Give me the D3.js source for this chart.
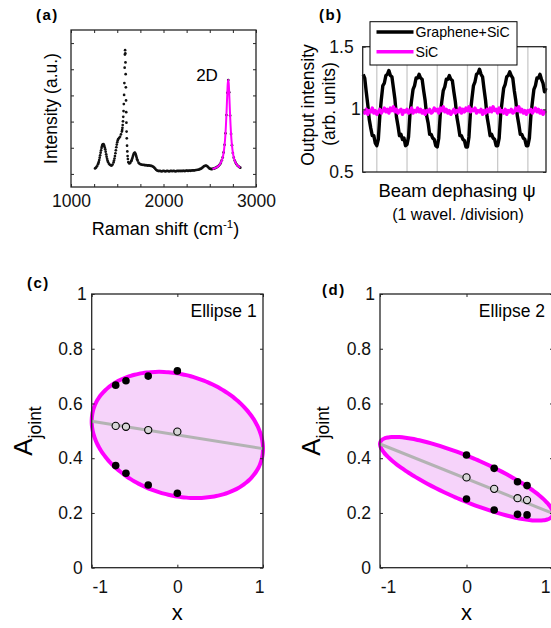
<!DOCTYPE html>
<html>
<head>
<meta charset="utf-8">
<script src="https://cdn.jsdelivr.net/npm/d3@7"></script>
<style>
  body { margin: 0; background: #fff; }
  svg { display: block; font-family: "Liberation Sans", Arial, Helvetica, sans-serif; }
</style>
</head>
<body>
<svg id="fig" width="551" height="628"></svg>
<script>
// ---------- (a) Raman spectrum ----------
const ramanShift = [
  1260,1270,1280,1290,1295,1300,1305,1310,1315,1320,1325,1330,1335,1340,1345,1350,1355,1360,1365,1370,
  1375,1380,1385,1390,1395,1400,1410,1420,1430,1440,1450,1460,1465,1470,1475,1480,1485,1490,1495,1500,
  1505,1510,1520,1530,1540,1550,1553,1556,1559,1562,1565,1568,1571,1574,1577,1580,1583,1585,1587,1589,
  1591,1593,1595,1597,1599,1601,1603,1606,1609,1612,1615,1620,1630,1640,1650,1655,1660,1665,1670,1675,
  1680,1685,1690,1695,1700,1705,1710,1715,1720,1730,1740,1750,1760,1770,1780,1790,1800,1810,1820,1830,
  1840,1850,1860,1870,1880,1890,1900,1910,1920,1930,1940,1950,1960,1970,1980,1990,2000,2010,2020,2030,
  2040,2050,2060,2070,2080,2090,2100,2110,2120,2130,2140,2150,2160,2170,2180,2190,2200,2210,2220,2230,
  2240,2250,2260,2270,2280,2290,2300,2310,2320,2330,2340,2350,2360,2370,2380,2390,2400,2410,2420,2430,
  2440,2450,2460,2470,2480,2490,2500,2510,2520,2530,2540,2550,2560,2570,2580,2590,2600,2610,2620,2630,
  2640,2650,2660,2670,2680,2690,2700,2710,2720,2730,2740,2750,2760,2770,2780,2790,2800,2810,2820,2830
];
const ramanIntensity = [
  0.71,0.74,0.79,0.86,0.90,0.96,1.03,1.12,1.21,1.31,1.40,1.49,1.56,1.61,1.63,1.64,1.61,1.57,1.51,1.44,
  1.35,1.25,1.16,1.08,1.01,0.96,0.89,0.85,0.83,0.82,0.86,0.94,1.01,1.09,1.18,1.29,1.40,1.52,1.62,1.71,
  1.78,1.83,1.87,1.92,2.01,2.12,2.18,2.26,2.37,2.51,2.68,2.90,3.17,3.52,3.97,4.56,5.06,5.23,5.11,4.76,
  4.31,3.81,3.31,2.86,2.46,2.12,1.86,1.58,1.36,1.18,1.07,0.95,0.90,0.92,0.98,1.02,1.07,1.12,1.18,1.23,
  1.28,1.30,1.31,1.28,1.24,1.18,1.12,1.06,1.01,0.93,0.89,0.87,0.86,0.85,0.84,0.85,0.83,0.84,0.83,0.82,
  0.83,0.82,0.81,0.81,0.79,0.77,0.74,0.70,0.66,0.63,0.62,0.61,0.62,0.61,0.60,0.61,0.62,0.61,0.60,0.61,
  0.62,0.61,0.60,0.61,0.62,0.61,0.61,0.62,0.61,0.60,0.61,0.62,0.61,0.62,0.61,0.62,0.61,0.62,0.62,0.61,
  0.62,0.63,0.62,0.62,0.63,0.62,0.63,0.63,0.64,0.63,0.64,0.65,0.65,0.66,0.66,0.68,0.69,0.71,0.74,0.77,
  0.80,0.81,0.82,0.80,0.77,0.73,0.70,0.69,0.68,0.69,0.70,0.71,0.73,0.74,0.77,0.79,0.83,0.87,0.93,1.02,
  1.13,1.32,1.61,2.05,2.75,3.60,4.09,3.62,2.73,2.03,1.60,1.30,1.12,1.01,0.93,0.87,0.82,0.79,0.76,0.74
];
// Lorentzian fit of the 2D band
const fitShift = [2530,2540,2550,2560,2570,2580,2590,2600,2610,2620,2630,2640,2650,2660,2665,2670,2675,2680,2685,2690,
  2695,2700,2705,2710,2715,2720,2725,2730,2735,2740,2750,2760,2770,2780,2790,2800,2810,2820,2830];
const fitIntensity = [0.69,0.70,0.71,0.73,0.74,0.76,0.79,0.82,0.87,0.93,1.01,1.13,1.31,1.60,1.79,2.04,2.36,2.74,3.17,3.61,
  3.96,4.09,3.96,3.61,3.17,2.74,2.36,2.04,1.79,1.60,1.31,1.13,1.01,0.93,0.87,0.82,0.79,0.76,0.74];
const ramanTicks = [1000,1250,1500,1750,2000,2250,2500,2750,3000];
const ramanTickLabels = [1000,2000,3000];
const intensityTicks = [0.5,1.5,2.5,3.5,4.5,5.5];

// ---------- (b) interferometer output ----------
const dephaseStart = 0.55, dephaseStep = 0.05;   // wavelengths
const grapheneSiC = [
  1.28,1.25,1.14,1.04,0.92,0.85,0.79,0.79,0.73,
  0.71,0.76,0.95,1.08,1.19,1.21,1.27,1.28,1.31,1.27,1.26,1.17,1.08,0.94,0.87,0.79,0.80,0.76,0.77,0.71,
  0.72,0.78,0.97,1.07,1.16,1.19,1.25,1.25,1.28,1.25,1.24,1.15,1.07,0.95,0.89,0.80,0.80,0.77,0.76,0.71,
  0.70,0.77,0.96,1.06,1.15,1.18,1.24,1.24,1.27,1.24,1.23,1.14,1.06,0.94,0.87,0.79,0.79,0.76,0.75,0.70,
  0.70,0.78,0.98,1.09,1.19,1.22,1.28,1.29,1.32,1.28,1.26,1.16,1.07,0.94,0.87,0.79,0.80,0.77,0.76,0.71,
  0.71,0.77,0.96,1.07,1.17,1.20,1.26,1.27,1.30,1.27,1.25,1.15,1.07,0.95,0.88,0.80,0.80,0.77,0.76,0.71,
  0.71,0.77,0.95,1.06,1.16,1.19,1.25,1.25,1.28,1.24,1.21,1.14,1.17
];
const siC = [
  0.99,0.97,1.00,0.96,0.99,0.98,1.01,0.97,0.99,0.96,
  0.98,1.00,0.97,0.99,1.01,0.98,1.00,0.97,1.01,0.99,
  1.02,0.98,1.00,0.97,0.99,1.00,0.96,0.99,0.98,1.00,
  0.97,0.98,1.01,0.97,0.99,0.98,1.01,0.98,1.00,0.97,
  0.99,0.96,0.99,0.98,1.00,0.97,0.98,1.01,0.99,1.00,
  0.97,1.01,0.99,1.02,0.98,1.00,0.97,0.99,0.96,0.98,
  1.00,0.97,0.99,0.98,1.01,0.97,1.00,0.98,1.01,0.99,
  1.02,0.98,1.00,0.99,1.01,0.97,0.99,0.98,1.00,0.96,
  0.99,0.97,1.00,0.98,1.01,0.98,1.02,0.99,1.00,0.97,
  1.01,0.98,0.99,0.97,1.00,0.96,0.99,0.98,1.00,0.97,
  0.98,1.01,0.99,1.02,0.98,1.00,0.97,0.99,0.96,0.99,
  0.98,1.00,0.97,0.99,1.01,0.98,1.00,0.97,0.99,0.96,
  0.98,0.99
];
const divisionTicks = [1,2,3,4,5,6];
const outputTicks = [0.5,1,1.5];
const seriesNames = ["Graphene+SiC","SiC"];

// ---------- (c), (d) joint amplitude ellipses ----------
const e1Params = [0.485, -0.05, 0.225];      // centre, tilt, half-height
const e1X     = [-0.72, -0.60, -0.34, 0.00];
const e1Upper = [0.667, 0.683, 0.700, 0.719];
const e1Lower = [0.373, 0.345, 0.302, 0.272];
const e1Mid   = [0.518, 0.515, 0.503, 0.497];

const e2Params = [0.325, -0.127, 0.085];
const e2X     = [0.00, 0.32, 0.59, 0.70];
const e2Upper = [0.412, 0.363, 0.314, 0.300];
const e2Lower = [0.251, 0.211, 0.195, 0.193];
const e2Mid   = [0.330, 0.288, 0.254, 0.247];

const aTicks = [0,0.2,0.4,0.6,0.8,1];
const xTicks = [-1,0,1];

// ---------- styling ----------
const INK = "#262626", MAG = "#ff00ff", GRID = "#cacaca";
const FILL = "#f6d3fa", MEAN = "#b3b3b3", OPEN = "#d6d6d6";
const TICK_FS = 17.5;

const svg = d3.select("#fig");

function frame(g, x, y) {
  const [x0, x1] = x.range(), [y0, y1] = y.range();
  g.append("rect")
    .attr("x", x0).attr("y", y1).attr("width", x1 - x0).attr("height", y0 - y1)
    .attr("fill", "none").attr("stroke", INK).attr("stroke-width", 1.3);
}

function axis(g, gen, tx, ty, nudge) {
  const a = g.append("g").attr("transform", `translate(${tx},${ty})`).call(gen);
  a.attr("font-size", null).attr("font-family", null);
  a.select(".domain").remove();
  a.selectAll(".tick line").attr("stroke", INK).attr("stroke-width", 1);
  a.selectAll(".tick text").attr("fill", "#111").style("font-size", TICK_FS + "px");
  if (nudge) a.selectAll(".tick text").attr("dx", d => nudge(d) || 0);
  return a;
}

function panelLabel(txt, x, y) {
  svg.append("text").attr("x", x).attr("y", y).text(txt)
    .style("font-weight", "bold").style("font-size", "15px").style("letter-spacing", "1.5px");
}

// ================= (a) =================
{
  const g = svg.append("g");
  const x = d3.scaleLinear().domain([1000, 3000]).range([71, 256]);
  const y = d3.scaleLinear().domain([0, 6]).range([187, 30]);

  g.append("g").selectAll("circle")
    .data(d3.zip(ramanShift, ramanIntensity))
    .join("circle")
    .attr("cx", d => x(d[0])).attr("cy", d => y(d[1])).attr("r", 1.35).attr("fill", "#111");

  g.append("path")
    .attr("d", d3.line().x(d => x(d[0])).y(d => y(d[1])).curve(d3.curveCatmullRom)(d3.zip(fitShift, fitIntensity)))
    .attr("fill", "none").attr("stroke", MAG).attr("stroke-width", 2);

  frame(g, x, y);
  axis(g, d3.axisBottom(x).tickValues(ramanTicks).tickSize(-3).tickPadding(8)
    .tickFormat(d => ramanTickLabels.includes(d) ? d : ""), 0, 187);
  axis(g, d3.axisTop(x).tickValues(ramanTicks).tickSize(-3).tickFormat(""), 0, 30);
  axis(g, d3.axisLeft(y).tickValues(intensityTicks).tickSize(-3).tickFormat(""), 71, 0);
  axis(g, d3.axisRight(y).tickValues(intensityTicks).tickSize(-3).tickFormat(""), 256, 0);

  g.append("text").attr("x", 207).attr("y", 81).attr("text-anchor", "middle")
    .style("font-size", "17px").text("2D");

  g.append("text").attr("transform", "translate(57,108.5) rotate(-90)")
    .attr("text-anchor", "middle").style("font-size", "17.5px").text("Intensity (a.u.)");

  const xl = g.append("text").attr("x", 165.5).attr("y", 235).attr("text-anchor", "middle")
    .style("font-size", "18px");
  xl.append("tspan").text("Raman shift (cm");
  xl.append("tspan").attr("dy", -7).style("font-size", "11.5px").text("-1");
  xl.append("tspan").attr("dy", 7).text(")");

  panelLabel("(a)", 36, 20);
}

// ================= (b) =================
{
  const g = svg.append("g");
  const x = d3.scaleLinear().domain([0.533, 6.6]).range([362.7, 546]);
  const y = d3.scaleLinear().domain([0.5, 1.5]).range([172, 46.7]);
  const phase = i => dephaseStart + i * dephaseStep;

  g.append("g").selectAll("line").data(divisionTicks).join("line")
    .attr("x1", d => x(d)).attr("x2", d => x(d)).attr("y1", y(0.5)).attr("y2", y(1.5))
    .attr("stroke", GRID).attr("stroke-width", 1.3);

  const line = d3.line().x((d, i) => x(phase(i))).y(d => y(d));
  g.append("path").attr("d", line(grapheneSiC))
    .attr("fill", "none").attr("stroke", "#000").attr("stroke-width", 3.4).attr("stroke-linejoin", "round");
  g.append("path").attr("d", line(siC))
    .attr("fill", "none").attr("stroke", MAG).attr("stroke-width", 3.4).attr("stroke-linejoin", "round");

  frame(g, x, y);
  axis(g, d3.axisLeft(y).tickValues(outputTicks).tickSize(-3).tickPadding(9)
    .tickFormat(d => d === 1 ? "1" : d.toFixed(1)), 362.7, 0, d => d === 1 ? 7 : 0);
  axis(g, d3.axisRight(y).tickValues(outputTicks).tickSize(-3).tickFormat(""), 546, 0);

  // legend
  const lg = g.append("g");
  lg.append("rect").attr("x", 370).attr("y", 21.7).attr("width", 147).attr("height", 43.3)
    .attr("fill", "#fff").attr("stroke", "#000").attr("stroke-width", 1);
  [["#000", 32], [MAG, 51.7]].forEach(([c, ly], i) => {
    lg.append("line").attr("x1", 376.5).attr("x2", 413.5).attr("y1", ly).attr("y2", ly)
      .attr("stroke", c).attr("stroke-width", 3.4);
    lg.append("text").attr("x", 415.5).attr("y", ly + 5).style("font-size", "14.2px").text(seriesNames[i]);
  });

  g.append("text").attr("transform", "translate(313.5,105) rotate(-90)")
    .attr("text-anchor", "middle").style("font-size", "17.5px").text("Output intensity");
  g.append("text").attr("transform", "translate(334.5,104) rotate(-90)")
    .attr("text-anchor", "middle").style("font-size", "17.5px").text("(arb. units)");

  g.append("text").attr("x", 457).attr("y", 197).attr("text-anchor", "middle")
    .style("font-size", "18.5px").text("Beam dephasing \u03C8");
  g.append("text").attr("x", 458).attr("y", 220).attr("text-anchor", "middle")
    .style("font-size", "16px").text("(1 wavel. /division)");

  panelLabel("(b)", 319, 20);
}

// ================= (c), (d) =================
function ellipsePanel(left, right, params, xs, upper, lower, mid, title, titleX, yLabelX, lastShift) {
  const g = svg.append("g");
  const x = d3.scaleLinear().domain([-1, 1]).range([left, right]);
  const y = d3.scaleLinear().domain([0, 1]).range([567.7, 294]);
  const [c, tilt, half] = params;

  const ring = d3.range(0, 360, 3).map(t => {
    const r = t * Math.PI / 180;
    return [Math.cos(r), c + tilt * Math.cos(r) + half * Math.sin(r)];
  });
  g.append("path")
    .attr("d", d3.line().x(d => x(d[0])).y(d => y(d[1])).curve(d3.curveCatmullRomClosed)(ring))
    .attr("fill", FILL).attr("stroke", MAG).attr("stroke-width", 4);

  g.append("line")
    .attr("x1", x(-1)).attr("y1", y(c - tilt)).attr("x2", x(1)).attr("y2", y(c + tilt))
    .attr("stroke", MEAN).attr("stroke-width", 3);

  const filled = xs.map((v, i) => [v, upper[i]]).concat(xs.map((v, i) => [v, lower[i]]));
  g.append("g").selectAll("circle").data(filled).join("circle")
    .attr("cx", d => x(d[0])).attr("cy", d => y(d[1])).attr("r", 3.8).attr("fill", "#000");
  g.append("g").selectAll("circle").data(xs.map((v, i) => [v, mid[i]])).join("circle")
    .attr("cx", d => x(d[0])).attr("cy", d => y(d[1])).attr("r", 3.6)
    .attr("fill", OPEN).attr("stroke", "#000").attr("stroke-width", 1.1);

  frame(g, x, y);
  const fmt = d => (d === 0 || d === 1) ? String(d) : d.toFixed(1);
  axis(g, d3.axisLeft(y).tickValues(aTicks).tickSize(-3).tickPadding(9).tickFormat(fmt),
    left, 0, d => d === 1 ? 4 : 0);
  axis(g, d3.axisRight(y).tickValues(aTicks).tickSize(-3).tickFormat(""), right, 0);
  axis(g, d3.axisBottom(x).tickValues(xTicks).tickSize(-3).tickPadding(13).tickFormat(d => String(d)),
    0, 567.7, d => d === -1 ? 8 : d === 1 ? lastShift : 0);
  axis(g, d3.axisTop(x).tickValues(xTicks).tickSize(-3).tickFormat(""), 0, 294);

  g.append("text").attr("x", titleX).attr("y", 316.7).attr("text-anchor", "end")
    .style("font-size", "17.5px").text(title);

  const yl = g.append("text").attr("transform", `translate(${yLabelX},431) rotate(-90)`)
    .attr("text-anchor", "middle");
  yl.append("tspan").style("font-size", "26px").text("A");
  yl.append("tspan").attr("dy", 9).style("font-size", "17.5px").text("joint");

  g.append("text").attr("x", (left + right) / 2).attr("y", 620).attr("text-anchor", "middle")
    .style("font-size", "22px").text("x");
}

ellipsePanel(91.7, 263, e1Params, e1X, e1Upper, e1Lower, e1Mid, "Ellipse 1", 256.7, 32, -4);
ellipsePanel(380, 553, e2Params, e2X, e2Upper, e2Lower, e2Mid, "Ellipse 2", 545, 320, -8);
panelLabel("(c)", 27, 288);
panelLabel("(d)", 322, 295);
</script>
</body>
</html>
